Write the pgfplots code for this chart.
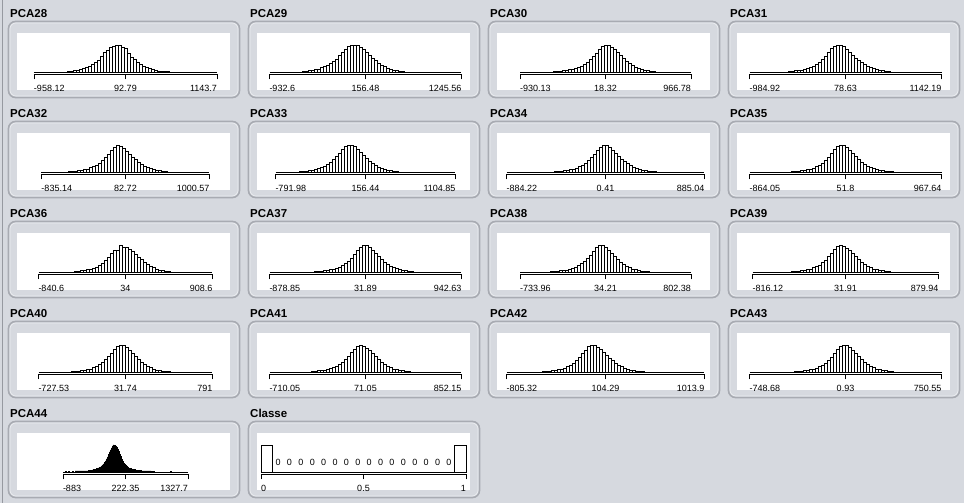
\documentclass[border=0pt]{standalone}
\usepackage{pgfplots}
\pgfplotsset{compat=1.18}
\usepackage{fontspec}
\setmainfont{Liberation Sans}
\definecolor{bg}{RGB}{214,217,223}
\definecolor{boxline}{RGB}{168,171,178}
\definecolor{boxhi}{RGB}{236,238,241}
\definecolor{edge}{RGB}{150,153,160}
\newcommand\titlefont{\fontsize{11.5}{13}\selectfont\bfseries}
\newcommand\tickfont{\fontsize{9}{10}\selectfont}

\pgfplotsset{hist/.style={
  scale only axis, height=29.5pt, ymin=-9.26, ymax=100, xmin=0,
  enlargelimits=false, axis x line*=bottom, axis y line=none,
  tick align=outside, major tick length=5pt,
  xtick style={black, line width=0.9pt},
  x axis line style={black, line width=0.9pt},
  xticklabel style={font=\tickfont, inner sep=0pt, anchor=north, yshift=-6pt},
  clip=false}}

% \histaxis[opts]{row}{L}{N}{min}{mid}{max}{plots}
\newcommand{\histaxis}[8][]{%
  \pgfmathsetmacro\yy{503-(100*#2+74.5)}%
  \pgfmathsetmacro\ww{3*#4}%
  \pgfmathsetmacro\hh{#4/2}%
  \begin{axis}[hist, at={(#3pt,\yy pt)}, anchor=south west, width=\ww pt, xmax=#4,
    xtick={0,\hh,#4}, xticklabels={\makebox[0pt][l]{#5},#6,\makebox[0pt][r]{#7}}, #1]
    \addplot[black, line width=0.9pt, forget plot] coordinates {(0,0) (#4,0)};
    #8
  \end{axis}}

\newcommand{\panel}[3]{%
  \begin{scope}[shift={(240*#1,-100*#2)}]
    \draw[boxline, line width=1.6pt, fill=bg, rounded corners=7pt] (8.5,503-21.5) rectangle (239.5,503-97.5);
    \draw[boxhi, line width=0.6pt, rounded corners=6pt] (10,503-23) rectangle (238,503-96);
    \fill[white] (17,503-33) rectangle (230,503-90);
    \node[anchor=base west, inner sep=0pt, font=\titlefont] at (10,503-17.5) {#3};
  \end{scope}}

\tikzset{hbar/.style={ybar interval, fill=white, draw=black, line width=0.9pt}}

\begin{document}
\begin{tikzpicture}[x=1pt,y=1pt]
\useasboundingbox (0,0) rectangle (964,503);
\fill[bg] (0,0) rectangle (964,503);
\draw[edge, line width=1pt] (2.5,0) -- (2.5,503);

\panel{0}{0}{PCA28}\panel{1}{0}{PCA29}\panel{2}{0}{PCA30}\panel{3}{0}{PCA31}
\panel{0}{1}{PCA32}\panel{1}{1}{PCA33}\panel{2}{1}{PCA34}\panel{3}{1}{PCA35}
\panel{0}{2}{PCA36}\panel{1}{2}{PCA37}\panel{2}{2}{PCA38}\panel{3}{2}{PCA39}
\panel{0}{3}{PCA40}\panel{1}{3}{PCA41}\panel{2}{3}{PCA42}\panel{3}{3}{PCA43}
\panel{0}{4}{PCA44}\panel{1}{4}{Classe}

% Row 0
\histaxis{0}{34}{61}{-958.12}{92.79}{1143.7}{%
\addplot[hbar] coordinates {(11,3)(12,3)(13,5)(14,6)(15,10)(16,13)(17,16)(18,19)(19,28)(20,37)(21,42)(22,58)(23,72)(24,80)(25,92)(26,96)(27,100)(28,97)(29,92)(30,86)(31,70)(32,55)(33,46)(34,34)(35,27)(36,22)(37,16)(38,12)(39,10)(40,6)(41,3)(42,3)(43,3)(44,3)(45,0)};}
\histaxis{0}{269.5}{64}{-932.6}{156.48}{1245.56}{%
\addplot[hbar] coordinates {(11,2)(12,3)(13,4)(14,6)(15,8)(16,11)(17,15)(18,19)(19,23)(20,30)(21,38)(22,48)(23,60)(24,72)(25,84)(26,94)(27,100)(28,100)(29,98)(30,91)(31,83)(32,72)(33,63)(34,52)(35,42)(36,33)(37,26)(38,20)(39,14)(40,10)(41,7)(42,5)(43,3)(44,3)(45,0)};}
\histaxis{0}{520}{57}{-930.13}{18.32}{966.78}{%
\addplot[hbar] coordinates {(11,2)(12,2)(13,3)(14,4)(15,6)(16,8)(17,10)(18,13)(19,17)(20,22)(21,28)(22,35)(23,45)(24,57)(25,70)(26,83)(27,94)(28,100)(29,97)(30,91)(31,82)(32,71)(33,60)(34,49)(35,39)(36,30)(37,23)(38,17)(39,12)(40,9)(41,6)(42,4)(43,3)(44,2)(45,0)};}
\histaxis{0}{749.5}{64}{-984.92}{78.63}{1142.19}{%
\addplot[hbar] coordinates {(13,2)(14,3)(15,4)(16,5)(17,7)(18,9)(19,12)(20,16)(21,21)(22,27)(23,35)(24,46)(25,58)(26,72)(27,86)(28,96)(29,100)(30,99)(31,93)(32,84)(33,74)(34,63)(35,52)(36,43)(37,34)(38,27)(39,21)(40,16)(41,12)(42,9)(43,6)(44,4)(45,3)(46,2)(47,0)};}

% Row 1
\histaxis{1}{41.5}{56}{-835.14}{82.72}{1000.57}{%
\addplot[hbar] coordinates {(9,2)(10,2)(11,3)(12,4)(13,6)(14,8)(15,11)(16,15)(17,20)(18,26)(19,33)(20,42)(21,54)(22,66)(23,79)(24,91)(25,100)(26,96)(27,88)(28,77)(29,66)(30,55)(31,45)(32,36)(33,28)(34,21)(35,16)(36,12)(37,8)(38,6)(39,4)(40,3)(41,2)(42,0)};}
\histaxis{1}{275.5}{60}{-791.98}{156.44}{1104.85}{%
\addplot[hbar] coordinates {(8,2)(9,3)(10,3)(11,5)(12,6)(13,9)(14,12)(15,16)(16,21)(17,27)(18,35)(19,45)(20,57)(21,70)(22,83)(23,94)(24,100)(25,99)(26,93)(27,84)(28,73)(29,61)(30,50)(31,40)(32,31)(33,24)(34,18)(35,13)(36,9)(37,6)(38,4)(39,3)(40,2)(41,0)};}
\histaxis{1}{506.5}{66}{-884.22}{0.41}{885.04}{%
\addplot[hbar] coordinates {(16,2)(17,2)(18,3)(19,4)(20,6)(21,8)(22,11)(23,14)(24,19)(25,25)(26,32)(27,41)(28,53)(29,66)(30,80)(31,92)(32,100)(33,98)(34,91)(35,81)(36,70)(37,59)(38,48)(39,38)(40,30)(41,23)(42,17)(43,13)(44,9)(45,6)(46,4)(47,3)(48,2)(49,2)(50,0)};}
\histaxis{1}{749.5}{64}{-864.05}{51.8}{967.64}{%
\addplot[hbar] coordinates {(14,2)(15,3)(16,3)(17,4)(18,6)(19,8)(20,11)(21,14)(22,19)(23,25)(24,33)(25,43)(26,55)(27,68)(28,82)(29,94)(30,100)(31,97)(32,90)(33,80)(34,69)(35,58)(36,47)(37,37)(38,29)(39,22)(40,16)(41,12)(42,9)(43,6)(44,4)(45,3)(46,2)(47,2)(48,0)};}

% Row 2
\histaxis{2}{38.5}{58}{-840.6}{34}{908.6}{%
\addplot[hbar] coordinates {(12,2)(13,3)(14,4)(15,6)(16,8)(17,10)(18,13)(19,18)(20,24)(21,32)(22,42)(23,55)(24,68)(25,78)(26,81)(27,100)(28,92)(29,90)(30,84)(31,76)(32,66)(33,55)(34,45)(35,36)(36,28)(37,21)(38,15)(39,11)(40,7)(41,5)(42,3)(43,2)(44,0)};}
\histaxis{2}{269.5}{64}{-878.85}{31.89}{942.63}{%
\addplot[hbar] coordinates {(15,2)(16,2)(17,3)(18,4)(19,6)(20,8)(21,10)(22,14)(23,18)(24,24)(25,31)(26,40)(27,51)(28,64)(29,78)(30,91)(31,100)(32,97)(33,90)(34,80)(35,69)(36,58)(37,47)(38,37)(39,29)(40,22)(41,16)(42,12)(43,8)(44,6)(45,4)(46,3)(47,2)(48,0)};}
\histaxis{2}{520}{57}{-733.96}{34.21}{802.38}{%
\addplot[hbar] coordinates {(10,2)(11,2)(12,3)(13,4)(14,5)(15,7)(16,10)(17,13)(18,17)(19,23)(20,30)(21,39)(22,50)(23,63)(24,77)(25,90)(26,100)(27,98)(28,91)(29,81)(30,70)(31,58)(32,47)(33,37)(34,28)(35,21)(36,15)(37,11)(38,8)(39,5)(40,3)(41,2)(42,2)(43,0)};}
\histaxis{2}{752.5}{62}{-816.12}{31.91}{879.94}{%
\addplot[hbar] coordinates {(13,2)(14,3)(15,3)(16,5)(17,6)(18,8)(19,11)(20,15)(21,20)(22,26)(23,34)(24,44)(25,56)(26,69)(27,83)(28,94)(29,100)(30,96)(31,89)(32,79)(33,68)(34,57)(35,46)(36,36)(37,28)(38,21)(39,15)(40,11)(41,8)(42,5)(43,4)(44,3)(45,2)(46,0)};}

% Row 3
\histaxis{3}{38.5}{58}{-727.53}{31.74}{791}{%
\addplot[hbar] coordinates {(11,2)(12,2)(13,3)(14,4)(15,6)(16,8)(17,11)(18,15)(19,20)(20,27)(21,35)(22,45)(23,57)(24,70)(25,83)(26,94)(27,100)(28,97)(29,90)(30,80)(31,69)(32,57)(33,46)(34,36)(35,27)(36,20)(37,15)(38,11)(39,7)(40,5)(41,3)(42,2)(43,2)(44,0)};}
\histaxis{3}{269.5}{64}{-710.05}{71.05}{852.15}{%
\addplot[hbar] coordinates {(14,2)(15,3)(16,4)(17,5)(18,7)(19,9)(20,12)(21,16)(22,21)(23,28)(24,36)(25,46)(26,58)(27,71)(28,85)(29,95)(30,100)(31,96)(32,88)(33,78)(34,67)(35,56)(36,45)(37,35)(38,27)(39,20)(40,15)(41,11)(42,8)(43,5)(44,4)(45,3)(46,2)(47,0)};}
\histaxis{3}{506.5}{66}{-805.32}{104.29}{1013.9}{%
\addplot[hbar] coordinates {(12,2)(13,2)(14,3)(15,4)(16,6)(17,8)(18,10)(19,14)(20,19)(21,25)(22,32)(23,42)(24,54)(25,67)(26,81)(27,93)(28,100)(29,98)(30,92)(31,83)(32,73)(33,62)(34,51)(35,41)(36,32)(37,25)(38,19)(39,14)(40,10)(41,7)(42,5)(43,3)(44,2)(45,2)(46,0)};}
\histaxis{3}{749.5}{64}{-748.68}{0.93}{750.55}{%
\addplot[hbar] coordinates {(15,2)(16,2)(17,3)(18,4)(19,6)(20,8)(21,11)(22,14)(23,19)(24,25)(25,33)(26,43)(27,55)(28,68)(29,82)(30,93)(31,100)(32,97)(33,91)(34,81)(35,70)(36,58)(37,47)(38,37)(39,28)(40,21)(41,15)(42,11)(43,8)(44,5)(45,4)(46,3)(47,2)(48,0)};}

% Row 4
\histaxis[width=125pt, ymin=-2.5, ymax=27]{4}{63}{125}{-883}{222.35}{1327.7}{%
\addplot[ybar interval, fill=black, draw=black, line width=0.6pt] coordinates {(12,1)(13,1)(14,1)(15,1)(16,1)(17,1)(18,1)(19,1)(20,1)(21,1)(22,1)(23,1)(24,1)(25,1.3)(26,1.5)(27,1.7)(28,1.8)(29,2)(30,2.2)(31,2.5)(32,2.7)(33,3.2)(34,3.6)(35,4)(36,4.5)(37,5)(38,6)(39,7)(40,8)(41,9.5)(42,11)(43,13)(44,15)(45,17.5)(46,20)(47,22)(48,24)(49,26)(50,27)(51,26.8)(52,26)(53,24.5)(54,23)(55,20.5)(56,18)(57,15.5)(58,13)(59,11)(60,9)(61,8)(62,7)(63,6)(64,5)(65,4)(66,3.6)(67,3.3)(68,3)(69,2.7)(70,2.4)(71,2.2)(72,2)(73,1.8)(74,1.6)(75,1.5)(76,1.4)(77,1.3)(78,1)(79,1)(80,1)(81,1)(82,1)(83,1)(84,1)(85,1)(86,1)(87,1)(88,0)};
\addplot[ybar interval, fill=black, draw=black, line width=0.6pt] coordinates {(2,0.8)(3,0)};
\addplot[ybar interval, fill=black, draw=black, line width=0.6pt] coordinates {(5,0.8)(6,0)};
\addplot[ybar interval, fill=black, draw=black, line width=0.6pt] coordinates {(9,0.8)(10,0)};
\addplot[ybar interval, fill=black, draw=black, line width=0.6pt] coordinates {(89,0.8)(91,0)};
\addplot[ybar interval, fill=black, draw=black, line width=0.6pt] coordinates {(107,0.8)(108,0)};}
\histaxis[width=205pt]{4}{261}{18}{0}{0.5}{1}{%
\addplot[hbar] coordinates {(0,100)(1,0)};
\addplot[hbar] coordinates {(17,100)(18,0)};
\addplot[draw=none, nodes near coords={0}, nodes near coords style={font=\tickfont, anchor=south, inner sep=0pt, yshift=6.5pt}] coordinates {(1.5,0)(2.5,0)(3.5,0)(4.5,0)(5.5,0)(6.5,0)(7.5,0)(8.5,0)(9.5,0)(10.5,0)(11.5,0)(12.5,0)(13.5,0)(14.5,0)(15.5,0)(16.5,0)};}
\end{tikzpicture}
\end{document}
